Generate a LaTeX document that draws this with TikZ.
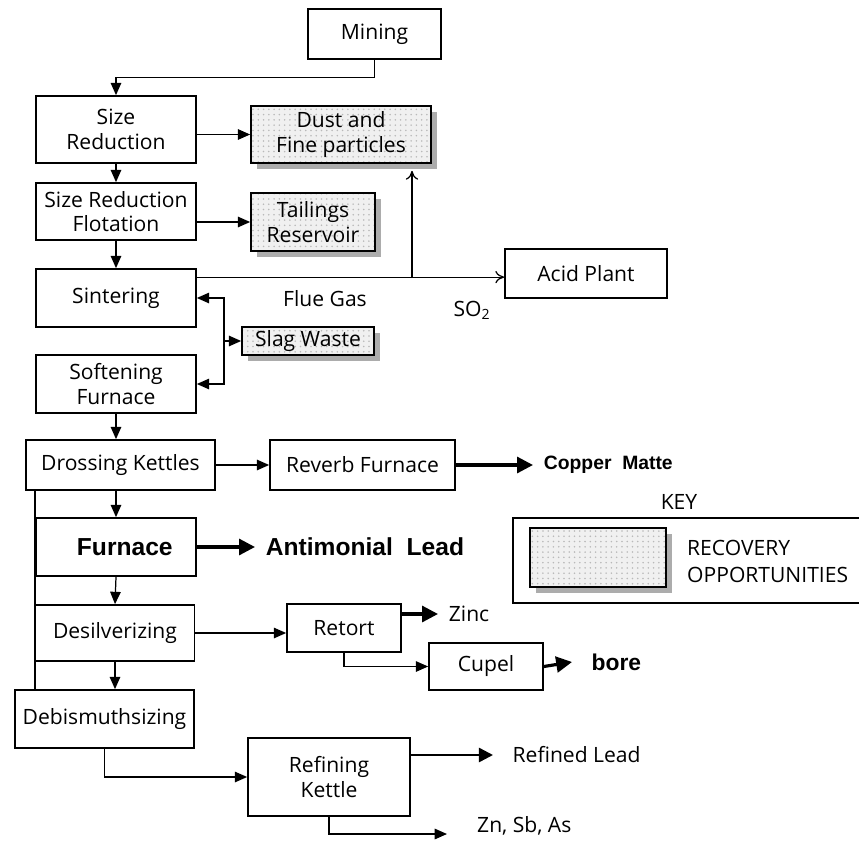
\documentclass[tikz,border=0pt]{standalone}
\usepackage{fontspec}
\setmainfont{Open Sans}
\newfontfamily\arialfont{Liberation Sans}
\usetikzlibrary{arrows.meta,calc,patterns,shadows}

\begin{document}
\begin{tikzpicture}[x=0.02cm, y=-0.02cm,
    font=\fontsize{12}{14}\selectfont,
    box/.style={draw, line width=1pt, fill=white, align=center, inner sep=2pt},
    recov/.style={box, general shadow={fill=gray!65, shadow xshift=3.5pt, shadow yshift=-3.5pt},
                  preaction={fill=gray!12}, pattern=dots, pattern color=gray!55},
    flow/.style={line width=0.7pt, -{Triangle[length=7pt,width=6pt]}},
    gas/.style={line width=0.7pt, -{To[length=5pt,width=7pt]}},
    prod/.style={line width=1.8pt, -{Triangle[length=9pt,width=9pt]}},
    prodthin/.style={line width=1.4pt, -{Triangle[length=8pt,width=8pt]}},
    outlabel/.style={anchor=west, inner xsep=6pt},
    boldlabel/.style={anchor=west, inner xsep=6pt, font=\arialfont\bfseries\fontsize{11}{14}\selectfont}]
    \useasboundingbox (0,0) rectangle (859,842);

    % process chain
    \node[box, minimum width=2.66cm, minimum height=1.0cm] (mining) at (374.5,34) {Mining};
    \node[box, minimum width=3.2cm, minimum height=1.34cm] (sr) at (116,129.5) {Size\\Reduction};
    \node[box, minimum width=3.2cm, minimum height=1.14cm] (srf) at (116,211.5) {Size Reduction\\Flotation};
    \node[box, minimum width=3.2cm, minimum height=1.16cm] (sint) at (116,298) {Sintering};
    \node[box, minimum width=3.2cm, minimum height=1.16cm] (soft) at (116,384) {Softening\\Furnace};
    \node[box, minimum width=3.78cm, minimum height=1.0cm] (dross) at (120.5,465) {Drossing Kettles};
    \node[box, minimum width=3.2cm, minimum height=1.16cm,
          font=\arialfont\bfseries\fontsize{14}{16}\selectfont] (furn) at (116,547) {\hspace*{10pt}Furnace};
    \node[box, minimum width=3.18cm, minimum height=1.12cm] (desil) at (115,633) {Desilverizing};
    \node[box, minimum width=3.58cm, minimum height=1.16cm] (debis) at (104.5,719) {Debismuthsizing};

    % side units
    \node[box, minimum width=3.24cm, minimum height=0.98cm] (acid) at (586,273.5) {Acid Plant};
    \node[box, minimum width=3.7cm, minimum height=1.0cm] (reverb) at (362.5,465) {Reverb Furnace};
    \node[box, minimum width=2.28cm, minimum height=0.96cm] (retort) at (344,628) {Retort};
    \node[box, minimum width=2.28cm, minimum height=0.94cm] (cupel) at (486,666.5) {Cupel};
    \node[box, minimum width=3.24cm, minimum height=1.56cm] (refin) at (329,777) {Refining\\Kettle};

    % recovery opportunities
    \node[recov, minimum width=3.6cm, minimum height=1.14cm] (dust) at (341,134.5) {Dust and\\Fine particles};
    \node[recov, minimum width=2.48cm, minimum height=1.16cm] (tail) at (313,222) {Tailings\\Reservoir};
    \node[recov, minimum width=2.64cm, minimum height=0.56cm] (slag) at (308,341) {Slag Waste};

    % products
    \node[boldlabel] (copper) at (533,465) {Copper\ \ Matte};
    \node[boldlabel, font=\arialfont\bfseries\fontsize{14}{16}\selectfont] (antim) at (255,547) {Antimonial\ \ Lead};
    \node[outlabel] (zinc) at (438,614) {Zinc};
    \node[boldlabel, inner xsep=11pt, font=\arialfont\bfseries\fontsize{13}{16}\selectfont] (bore) at (572,662) {bore};
    \node[outlabel, inner xsep=11pt] (refined) at (493,755) {Refined Lead};
    \node[outlabel, inner xsep=17pt] (znsb) at (447,826) {Zn, Sb, As};
    \node (flue) at (325,299) {Flue Gas};
    \node (so2) at (472,310) {SO\textsubscript{2}};

    % key
    \node (keyttl) at (679,502) {KEY};
    \draw[line width=0.8pt] (859,518) -- (513,518) -- (513,603) -- (859,603);
    \node[recov, minimum width=2.72cm, minimum height=1.18cm] (swatch) at (598,557.5) {};
    \node[anchor=west, align=left, font=\fontsize{12}{15}\selectfont] (recovtxt) at (681,561.5) {RECOVERY\\OPPORTUNITIES};

    % flows
    \draw[flow] (mining.south) -- ++(0,18) -| (sr.north);
    \draw[flow] (sr.south) -- (srf.north);
    \draw[flow] (sr.east |- dust.west) -- (dust.west);
    \draw[flow] (srf.east |- tail.west) -- (tail.west);
    \draw[flow] (srf.south) -- (sint.north);

    % flue gas
    \coordinate (fluestart) at ($(sint.north east)+(0,9)$);
    \coordinate (gastee) at (412,278);
    \draw[gas] (fluestart) -- (fluestart -| acid.west);
    \draw[gas] (gastee) -- ($(gastee |- dust.south)+(0,7)$);

    % slag
    \coordinate (slagtee) at (224,341);
    \draw[flow] (slagtee) -- (slag.west);
    \draw[flow] (slagtee) |- (sint.east);
    \draw[flow] (slagtee) |- (soft.east);

    \draw[flow] (soft.south) -- (soft.south |- dross.north);
    \draw[flow] (dross.east) -- (reverb.west);
    \draw[prod] (reverb.east) -- (copper.west);
    \draw[flow] (dross.south -| furn.north) -- (furn.north);
    \draw[line width=1pt] (dross.south -| furn.west) -- (debis.north -| furn.west);
    \draw[prod] (furn.east) -- (antim.west);
    \draw[flow] (furn.south) -- (desil.north);
    \draw[flow] (desil.east) -- (desil.east -| retort.west);
    \draw[prod] (retort.east |- zinc.west) -- (zinc.west);
    \draw[flow] (retort.south) |- (cupel.west);
    \draw[prod] (cupel.east) -- (bore.west);
    \draw[flow] (desil.south) -- (desil.south |- debis.north);
    \draw[flow] (debis.south) |- (refin.west);
    \draw[prodthin] (refin.east |- refined.west) -- (refined.west);
    \draw[flow] (refin.south) |- ($(znsb.west)+(0,8)$);
\end{tikzpicture}
\end{document}
